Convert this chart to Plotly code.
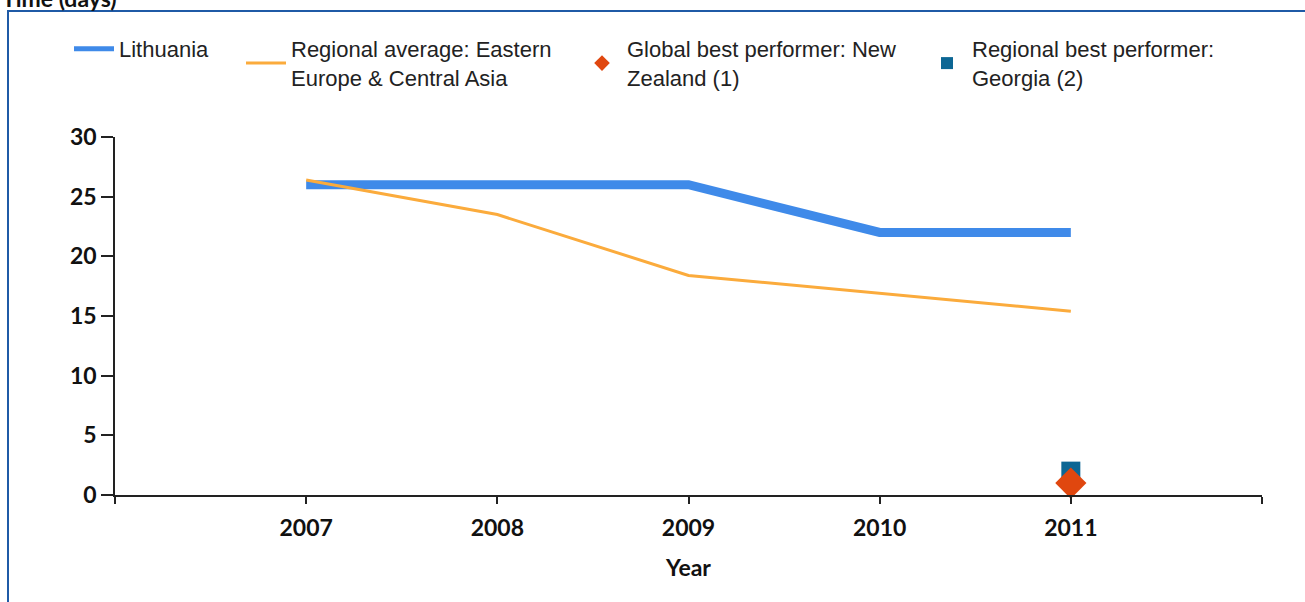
import plotly.graph_objects as go

# ---- data ----
years = [2007, 2008, 2009, 2010, 2011]
lithuania = [26, 26, 26, 22, 22]
regional_avg = [26.4, 23.5, 18.4, 16.9, 15.4]
global_best_year = [2011]
global_best_val = [1]
regional_best_year = [2011]
regional_best_val = [2]
x_tickvals = [2006, 2007, 2008, 2009, 2010, 2011, 2012]
x_ticktext = ["", "2007", "2008", "2009", "2010", "2011", ""]
y_tickvals = [0, 5, 10, 15, 20, 25, 30]

# ---- layout geometry (pixels) ----
W, H = 1305, 602
ML, MR, MT, MB = 115, 43, 137, 107
PW, PH = W - ML - MR, H - MT - MB


def px(xp):
    return (xp - ML) / PW


def py(yp):
    return (H - MB - yp) / PH


BLUE = "#3f8ae9"
ORANGE = "#fbab3c"
RED = "#e0470f"
TEAL = "#0c6694"
LEGEND_FONT = dict(family="Liberation Sans, Arial, sans-serif", size=22, color="#222222")
BOLD_FONT = dict(family="Lato, sans-serif", size=23, color="#111111", weight="bold")

fig = go.Figure()
fig.add_trace(go.Scatter(
    x=years, y=lithuania, mode="lines", name="Lithuania",
    line=dict(color=BLUE, width=9), legend="legend"))
fig.add_trace(go.Scatter(
    x=years, y=regional_avg, mode="lines",
    name="Regional average: Eastern<br>Europe & Central Asia",
    line=dict(color=ORANGE, width=3), legend="legend2"))
fig.add_trace(go.Scatter(
    x=regional_best_year, y=regional_best_val, mode="markers",
    name="Regional best performer:<br>Georgia (2)",
    marker=dict(symbol="square", color=TEAL, size=19), cliponaxis=False,
    legend="legend4"))
fig.add_trace(go.Scatter(
    x=global_best_year, y=global_best_val, mode="markers",
    name="Global best performer: New<br>Zealand (1)",
    marker=dict(symbol="diamond", color=RED, size=24), cliponaxis=False,
    legend="legend3"))

leg_common = dict(orientation="h", xanchor="left", yanchor="top",
                  font=LEGEND_FONT, bgcolor="rgba(0,0,0,0)", borderwidth=0)
legend_y = py(28)
fig.update_layout(
    legend=dict(x=px(69), y=legend_y, itemwidth=40, itemsizing="constant", **leg_common),
    legend2=dict(x=px(241), y=legend_y, itemwidth=40, **leg_common),
    legend3=dict(x=px(577), y=legend_y, itemwidth=40, itemsizing="constant", **leg_common),
    legend4=dict(x=px(922), y=legend_y, itemwidth=40, itemsizing="constant", **leg_common),
)

fig.update_xaxes(
    range=[2006, 2012], tickvals=x_tickvals, ticktext=x_ticktext,
    showline=True, linecolor="#222222", linewidth=1.5, mirror=False,
    ticks="outside", ticklen=7, tickcolor="#222222", tickwidth=1.5,
    ticklabelstandoff=5,
    showgrid=False, zeroline=False, tickfont=BOLD_FONT,
    title=dict(text="Year", font=BOLD_FONT, standoff=20))
fig.update_yaxes(
    range=[0, 30], tickvals=y_tickvals,
    showline=True, linecolor="#222222", linewidth=1.5,
    ticks="outside", ticklen=12, tickcolor="#222222", tickwidth=1.5,
    showgrid=False, zeroline=False, tickfont=BOLD_FONT)

# chart frame border
fig.add_shape(type="rect", xref="paper", yref="paper",
              x0=px(8), x1=px(W + 20), y0=py(H + 20), y1=py(11),
              line=dict(color="#1f5aa6", width=2), fillcolor="rgba(0,0,0,0)",
              layer="below")

# partially visible title at top (cut off by the page edge, as in the original)
fig.add_annotation(text="Time (days)", xref="paper", yref="paper",
                   x=px(0), y=py(14), xanchor="left", yanchor="bottom",
                   showarrow=False, font=BOLD_FONT)

fig.update_layout(
    width=W, height=H,
    margin=dict(l=ML, r=MR, t=MT, b=MB, autoexpand=False),
    plot_bgcolor="white", paper_bgcolor="white",
    showlegend=True,
)

fig.write_html("out.html", config={"displayModeBar": False},
               post_script="document.body.style.margin='0';document.body.style.overflow='hidden';")
